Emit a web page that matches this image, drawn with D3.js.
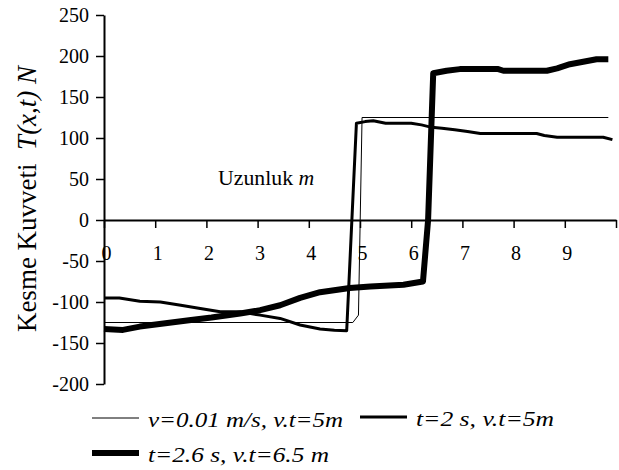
<!DOCTYPE html>
<html>
<head>
<meta charset="utf-8">
<script src="https://cdn.jsdelivr.net/npm/d3@7"></script>
<style>
  body { margin: 0; background: #fff; }
  svg { display: block; }
  text { font-family: "Liberation Serif", "Times New Roman", serif; fill: #000; }
</style>
</head>
<body>
<svg id="chart" width="619" height="470"></svg>
<script>
// series: [x in m, T in N]
var lowSpeed = [[0, -125], [4.86, -125], [4.97, -116], [5.04, 125], [9.85, 125]];
var t2 = [[0, -95], [0.3, -95], [0.7, -99], [1.1, -100], [1.5, -104], [1.88, -108], [2.27, -112],
  [2.66, -112], [3.05, -116], [3.44, -120], [3.83, -128], [4.22, -133], [4.5, -134.5], [4.74, -135],
  [4.93, 118], [5.1, 120], [5.26, 121], [5.5, 118], [6.0, 118], [6.2, 116], [6.4, 113], [6.6, 112],
  [6.85, 110], [7.1, 108], [7.35, 105.5], [8.45, 105.5], [8.6, 103], [8.85, 101], [9.75, 101], [9.93, 98]];
var t26 = [[0, -133], [0.37, -134], [0.7, -130], [1.2, -126], [1.7, -122], [2.1, -119], [2.66, -114],
  [3.05, -110], [3.44, -104], [3.83, -95], [4.22, -88], [4.8, -83], [5.2, -81], [5.85, -79], [6.23, -75],
  [6.33, 0], [6.43, 179], [6.69, 182], [6.95, 184], [7.1, 184], [7.7, 184], [7.8, 182], [8.65, 182],
  [8.85, 185], [9.1, 190], [9.36, 193], [9.62, 196], [9.85, 196]];

var xTicks = [0, 1, 2, 3, 4, 5, 6, 7, 8, 9, 10];
var yTicks = [-200, -150, -100, -50, 0, 50, 100, 150, 200, 250];

var series = [
  { label: "v=0.01 m/s, v.t=5m", data: lowSpeed, width: 1 },
  { label: "t=2 s, v.t=5m", data: t2, width: 3 },
  { label: "t=2.6 s, v.t=6.5 m", data: t26, width: 6 }
];

var svg = d3.select("#chart");

var x = d3.scaleLinear().domain([0, 10]).range([104, 616]);
var y = d3.scaleLinear().domain([-200, 250]).range([384, 15]);

// Y axis
var yAxis = svg.append("g")
  .attr("transform", "translate(" + x(0) + ",0)")
  .call(d3.axisLeft(y).tickValues(yTicks).tickSize(8).tickSizeOuter(0).tickPadding(7)
    .tickFormat(function (d) { return String(d); }));
yAxis.select(".domain").attr("stroke-width", 2);
yAxis.selectAll(".tick line").attr("stroke-width", 1.5);
yAxis.selectAll(".tick text").attr("font-size", 20).attr("font-family", null);

// X axis through zero
var xAxis = svg.append("g")
  .attr("transform", "translate(0," + y(0) + ")")
  .call(d3.axisBottom(x).tickValues(xTicks).tickSize(8).tickSizeOuter(0)
    .tickFormat(function (d) { return d < 10 ? d : ""; }));
xAxis.select(".domain").attr("stroke-width", 2);
xAxis.selectAll(".tick line").attr("stroke-width", 1.5);
xAxis.selectAll(".tick text")
  .attr("font-size", 20).attr("font-family", null)
  .attr("x", 2).attr("y", 26).attr("dy", "0.71em");

// lines
var line = d3.line()
  .x(function (d) { return x(d[0]); })
  .y(function (d) { return y(d[1]); });

svg.append("g").selectAll("path")
  .data(series)
  .enter()
  .append("path")
  .attr("d", function (d) { return line(d.data); })
  .attr("fill", "none")
  .attr("stroke", "#000")
  .attr("stroke-width", function (d) { return d.width; })
  .attr("stroke-linejoin", "round");

// inner label
var inner = svg.append("text")
  .attr("transform", "translate(218,185) scale(1.09,1)")
  .attr("font-size", 20);
inner.append("tspan").text("Uzunluk ");
inner.append("tspan").attr("font-style", "italic").text("m");

// y title
var title = svg.append("text")
  .attr("transform", "translate(36,199) rotate(-90)")
  .attr("text-anchor", "middle")
  .attr("font-size", 27);
title.append("tspan").text("Kesme Kuvveti\u00a0\u00a0");
title.append("tspan").attr("font-style", "italic").text("T(x,t) N");

// legend
var legendPos = [[92, 418], [360, 417], [92, 453]];
var legendLen = [195, 138, 181];
var legend = svg.append("g").selectAll("g")
  .data(series)
  .enter()
  .append("g")
  .attr("transform", function (d, i) { return "translate(" + legendPos[i][0] + "," + legendPos[i][1] + ")"; });
legend.append("line")
  .attr("x1", 0).attr("x2", 47)
  .attr("stroke", "#000")
  .attr("stroke-width", function (d) { return d.width; });
legend.append("text")
  .attr("x", 56).attr("y", 9)
  .attr("font-size", 21)
  .attr("font-style", "italic")
  .attr("textLength", function (d, i) { return legendLen[i]; })
  .attr("lengthAdjust", "spacingAndGlyphs")
  .text(function (d) { return d.label; });
</script>
</body>
</html>
